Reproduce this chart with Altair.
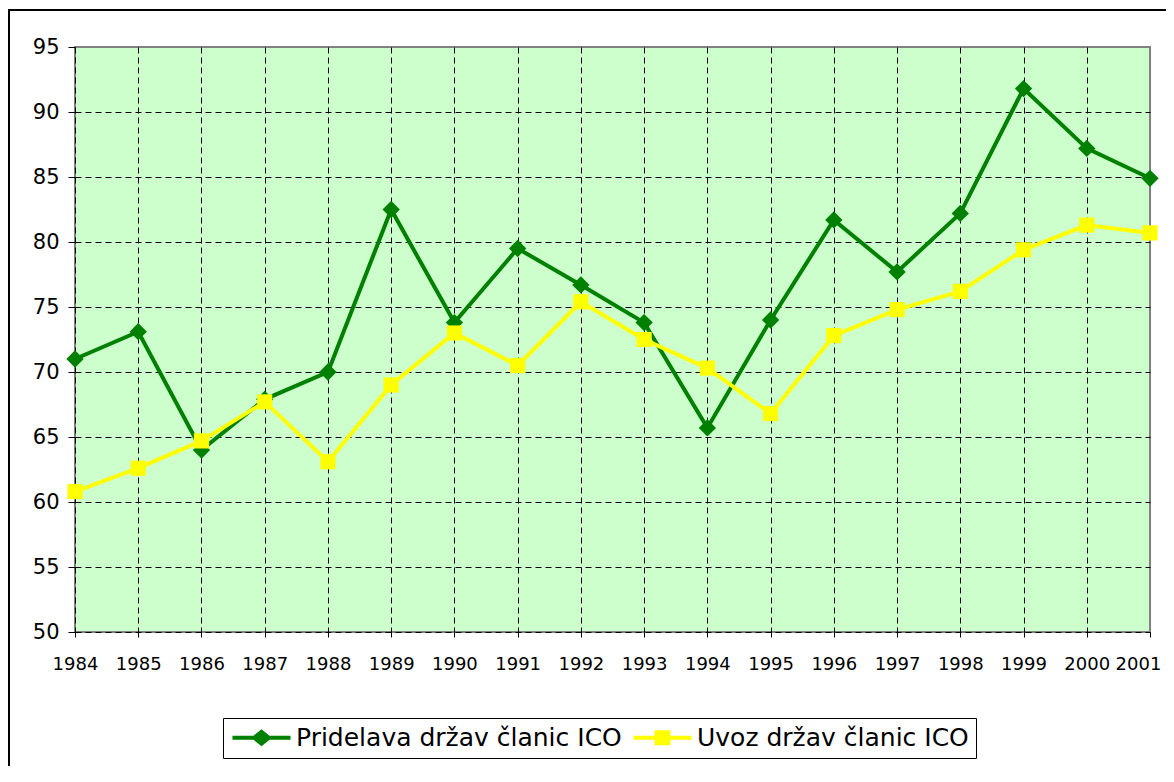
import altair as alt
import pandas as pd

years = [1984, 1985, 1986, 1987, 1988, 1989, 1990, 1991, 1992,
         1993, 1994, 1995, 1996, 1997, 1998, 1999, 2000, 2001]
pridelava = [71.0, 73.1, 64.0, 67.9, 70.0, 82.5, 73.8, 79.5, 76.7,
             73.8, 65.7, 74.0, 81.7, 77.7, 82.2, 91.8, 87.2, 84.9]
uvoz = [60.8, 62.6, 64.7, 67.7, 63.1, 69.0, 73.0, 70.5, 75.4,
        72.5, 70.3, 66.8, 72.8, 74.8, 76.2, 79.4, 81.3, 80.7]
series_names = ["Pridelava držav članic ICO", "Uvoz držav članic ICO"]
series_colors = ["#008000", "#FFFF00"]
y_ticks = [50, 55, 60, 65, 70, 75, 80, 85, 90, 95]

df = pd.DataFrame({
    "year": years * 2,
    "value": pridelava + uvoz,
    "series": [series_names[0]] * len(years) + [series_names[1]] * len(years),
})

FONT = "DejaVu Sans"

x_enc = alt.X("year:Q",
              scale=alt.Scale(domain=[years[0], years[-1]], nice=False, zero=False),
              axis=alt.Axis(values=years, format="d", title=None,
                            labelFont=FONT, labelFontSize=18, labelColor="#000000",
                            labelPadding=18, tickSize=5, tickColor="#000000",
                            labelOffset=alt.condition("datum.value == 2001", alt.value(-12), alt.value(0)),
                            gridOpacity=alt.condition("datum.value == 2001", alt.value(0), alt.value(1)),
                            domain=False, grid=True, gridDash=[6, 4],
                            gridColor="#000000", gridWidth=1,
                            labelFlush=False, labelOverlap=False))
y_enc = alt.Y("value:Q",
              scale=alt.Scale(domain=[50, 95], nice=False, zero=False),
              axis=alt.Axis(values=y_ticks, title=None,
                            labelFont=FONT, labelFontSize=21, labelColor="#000000",
                            labelPadding=9, tickSize=7, tickColor="#000000",
                            gridOpacity=alt.condition("datum.value == 95", alt.value(0), alt.value(1)),
                            domain=False, grid=True, gridDash=[6, 4],
                            gridColor="#000000", gridWidth=1))

base = alt.Chart(df).encode(x=x_enc, y=y_enc)

frame = alt.Chart(alt.Data(values=[{"a": 1}])).mark_rect(
    fillOpacity=0, stroke="#000000", strokeWidth=2
).encode(x=alt.value(-66), x2=alt.value(1300), y=alt.value(-37), y2=alt.value(900))

green_line = base.transform_filter(alt.datum.series == series_names[0]).mark_line(
    color=series_colors[0], strokeWidth=4)
green_pts = base.transform_filter(alt.datum.series == series_names[0]).mark_point(
    shape="diamond", filled=True, size=300, color=series_colors[0], opacity=1)
yellow_line = base.transform_filter(alt.datum.series == series_names[1]).mark_line(
    color=series_colors[1], strokeWidth=4)
yellow_pts = base.transform_filter(alt.datum.series == series_names[1]).mark_point(
    shape="square", filled=True, size=230, color=series_colors[1], opacity=1)

legend_paths = [
    "M-2.42,-0.17H2.42V0.17H-2.42Z M0,-0.71L0.875,0L0,0.71L-0.875,0Z",
    "M-2.42,-0.17H2.42V0.17H-2.42Z M-0.67,-0.63H0.67V0.63H-0.67Z",
]

def make_legend():
    return alt.Legend(title=None, orient="none", legendX=148, legendY=671,
                      direction="horizontal", columns=2,
                      symbolSize=576, symbolOffset=19, symbolStrokeWidth=0,
                      labelOffset=22, labelFont=FONT, labelFontSize=25,
                      labelColor="#000000", labelLimit=1000,
                      columnPadding=9, padding=7,
                      strokeColor="#000000", fillColor="#FFFFFF")

legend_layer = base.transform_filter(alt.datum.value < 0).mark_point(
    filled=True, opacity=1
).encode(
    color=alt.Color("series:N", scale=alt.Scale(domain=series_names, range=series_colors),
                    legend=make_legend()),
    shape=alt.Shape("series:N", scale=alt.Scale(domain=series_names, range=legend_paths),
                    legend=make_legend()),
)

chart = alt.layer(frame, green_line, green_pts, yellow_line, yellow_pts, legend_layer).properties(
    width=1075, height=585,
    autosize=alt.AutoSizeParams(type="none"),
    padding={"left": 67, "top": 39, "right": 16, "bottom": 134},
    background="#FFFFFF",
).configure_view(
    fill="#CCFFCC", stroke="#808080", strokeWidth=2
)

chart.save("out.html", embed_options={"renderer": "svg", "actions": False})
